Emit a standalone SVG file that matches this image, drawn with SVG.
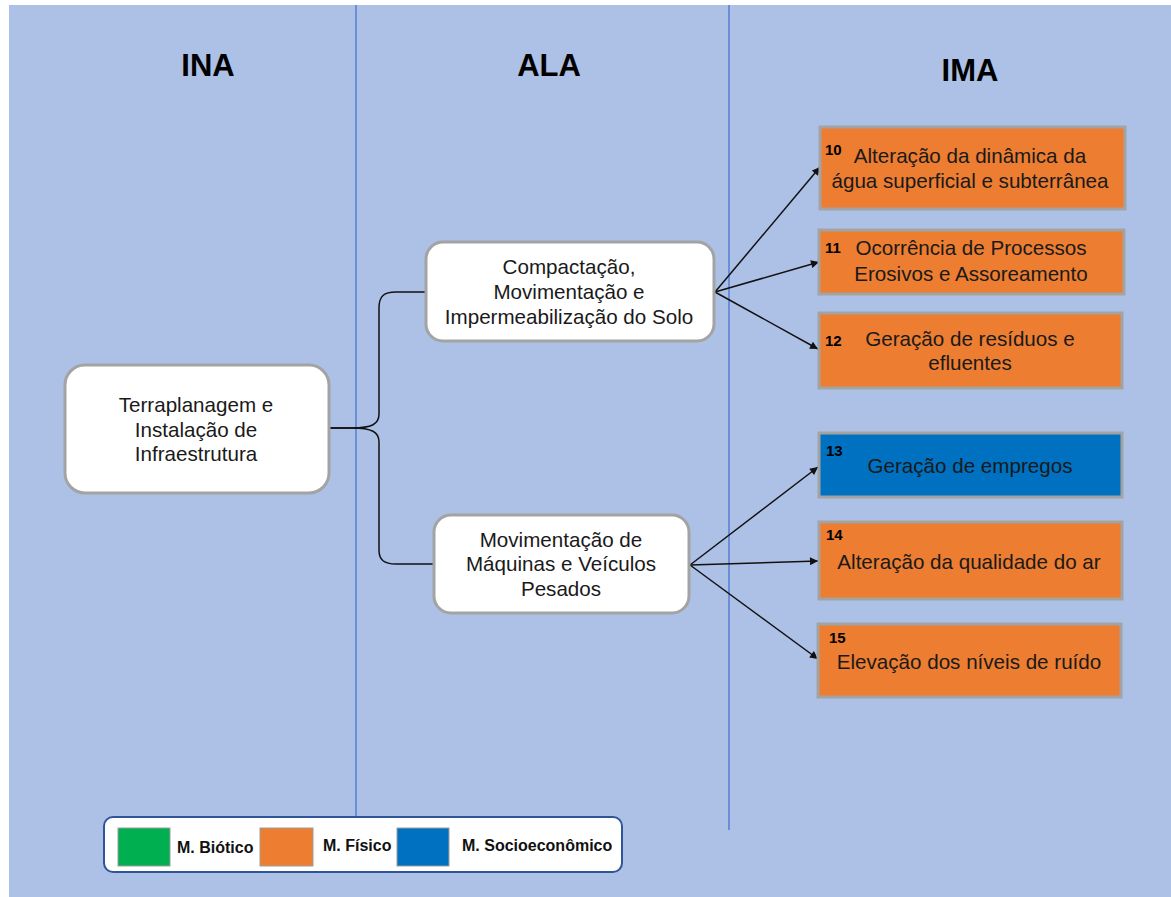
<svg xmlns="http://www.w3.org/2000/svg" width="1171" height="897" viewBox="0 0 1171 897">
  <style>
    .hdr { font-family: "Liberation Sans", Arial, sans-serif; font-weight: bold; font-size: 31px; fill: #000; text-anchor: middle; }
    .lbl { font-family: "Liberation Sans", Arial, sans-serif; font-size: 20.6px; fill: #1a1a1a; text-anchor: middle; }
    .num { font-family: "Liberation Sans", Arial, sans-serif; font-weight: bold; font-size: 15px; fill: #000; }
    .leg { font-family: "Liberation Sans", Arial, sans-serif; font-weight: bold; font-size: 16px; fill: #111; }
    .act { fill: #ffffff; stroke: #a3a3a3; stroke-width: 3; }
    .imp { stroke: #a3a3a3; stroke-width: 3; }
    .fis { fill: #ed7d31; }
    .soc { fill: #0070c0; }
    .bio { fill: #00b050; }
    .sw { stroke: #9e9e9e; stroke-width: 1; }
    .lane { stroke: #6a8fd6; stroke-width: 2; }
    .link { fill: none; stroke: #111; stroke-width: 1.5; }
  </style>
  <defs>
    <marker id="arrow" viewBox="0 0 10 10" refX="10" refY="5" markerWidth="9" markerHeight="8" orient="auto" markerUnits="userSpaceOnUse">
      <path d="M0,0 L10,5 L0,10 Z" fill="#111"/>
    </marker>
  </defs>

  <!-- page background -->
  <rect x="0" y="0" width="1171" height="897" fill="#ffffff"/>
  <rect x="9" y="5" width="1162" height="892" fill="#adc0e6"/>

  <!-- swimlane dividers -->
  <line class="lane" x1="356" y1="5" x2="356" y2="817"/>
  <line class="lane" x1="729" y1="5" x2="729" y2="830"/>

  <!-- column headers -->
  <text class="hdr" x="208" y="76">INA</text>
  <text class="hdr" x="549" y="76">ALA</text>
  <text class="hdr" x="970" y="81">IMA</text>

  <!-- connectors -->
  <g id="connectors">
    <path class="link" d="M330,428 L352,428 C372,428 379,424 379,414 L379,308 C379,296 384,292 396,292 L426,292"/>
    <path class="link" d="M330,428 L352,428 C372,428 379,432 379,442 L379,550 C379,560 384,564 396,564 L434,564"/>
    <line class="link" x1="715" y1="292" x2="820" y2="167" marker-end="url(#arrow)"/>
    <line class="link" x1="715" y1="292" x2="819" y2="262" marker-end="url(#arrow)"/>
    <line class="link" x1="715" y1="292" x2="818" y2="349" marker-end="url(#arrow)"/>
    <line class="link" x1="690" y1="565" x2="818" y2="467" marker-end="url(#arrow)"/>
    <line class="link" x1="690" y1="565" x2="818" y2="561" marker-end="url(#arrow)"/>
    <line class="link" x1="690" y1="565" x2="818" y2="659" marker-end="url(#arrow)"/>
  </g>

  <!-- INA -->
  <g id="node-terraplanagem">
    <rect class="act" x="65" y="365" width="264" height="128" rx="20"/>
    <text class="lbl" x="196" y="412">Terraplanagem e</text>
    <text class="lbl" x="196" y="437">Instalação de</text>
    <text class="lbl" x="196" y="461">Infraestrutura</text>
  </g>

  <!-- ALA -->
  <g id="node-compactacao">
    <rect class="act" x="426" y="242" width="288" height="99" rx="17"/>
    <text class="lbl" x="569" y="274">Compactação,</text>
    <text class="lbl" x="569" y="299">Movimentação e</text>
    <text class="lbl" x="569" y="324">Impermeabilização do Solo</text>
  </g>
  <g id="node-movimentacao">
    <rect class="act" x="434" y="515" width="255" height="98" rx="17"/>
    <text class="lbl" x="561" y="547">Movimentação de</text>
    <text class="lbl" x="561" y="571">Máquinas e Veículos</text>
    <text class="lbl" x="561" y="596">Pesados</text>
  </g>

  <!-- IMA -->
  <g id="impact-10">
    <rect class="imp fis" x="820" y="127" width="305" height="82"/>
    <text class="num" x="825" y="155">10</text>
    <text class="lbl" x="970" y="163">Alteração da dinâmica da</text>
    <text class="lbl" x="970" y="188">água superficial e subterrânea</text>
  </g>
  <g id="impact-11">
    <rect class="imp fis" x="819" y="230" width="305" height="64"/>
    <text class="num" x="825" y="253">11</text>
    <text class="lbl" x="971" y="255">Ocorrência de Processos</text>
    <text class="lbl" x="971" y="281">Erosivos e Assoreamento</text>
  </g>
  <g id="impact-12">
    <rect class="imp fis" x="819" y="313" width="303" height="75"/>
    <text class="num" x="825" y="346">12</text>
    <text class="lbl" x="970" y="346">Geração de resíduos e</text>
    <text class="lbl" x="970" y="370">efluentes</text>
  </g>
  <g id="impact-13">
    <rect class="imp soc" x="819" y="433" width="303" height="64"/>
    <text class="num" x="826" y="456">13</text>
    <text class="lbl" x="970" y="473">Geração de empregos</text>
  </g>
  <g id="impact-14">
    <rect class="imp fis" x="819" y="522" width="303" height="77"/>
    <text class="num" x="826" y="540">14</text>
    <text class="lbl" x="969" y="569">Alteração da qualidade do ar</text>
  </g>
  <g id="impact-15">
    <rect class="imp fis" x="818" y="624" width="303" height="73"/>
    <text class="num" x="829" y="643">15</text>
    <text class="lbl" x="969" y="669">Elevação dos níveis de ruído</text>
  </g>

  <!-- legend -->
  <g id="legend">
    <rect x="104" y="817" width="518" height="55" rx="9" fill="#ffffff" stroke="#2f5597" stroke-width="2"/>
    <rect class="sw bio" x="118" y="828" width="52" height="38"/>
    <text class="leg" x="177" y="853">M. Biótico</text>
    <rect class="sw fis" x="260" y="828" width="53" height="38"/>
    <text class="leg" x="323" y="851">M. Físico</text>
    <rect class="sw soc" x="397" y="828" width="52" height="38"/>
    <text class="leg" x="462" y="851">M. Socioeconômico</text>
  </g>
</svg>
